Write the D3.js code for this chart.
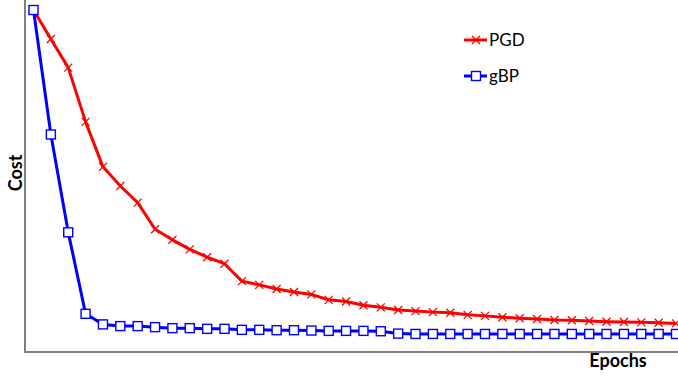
<!DOCTYPE html>
<html>
<head>
<meta charset="utf-8">
<script src="https://cdn.jsdelivr.net/npm/d3@7"></script>
<style>
  body { margin: 0; background: #fff; }
  svg { display: block; }
</style>
</head>
<body>
<div id="chart"></div>
<script>
// data (cost in arbitrary units, top point = 100)
const epochs = d3.range(0, 38);
const pgdCost = [100, 91.5, 83.1, 67.2, 54.0, 48.4, 43.5, 35.7, 32.6, 29.8,
  27.5, 25.6, 20.5, 19.4, 18.2, 17.3, 16.6, 15.0, 14.5, 13.4,
  12.8, 12.0, 11.7, 11.4, 11.2, 10.6, 10.3, 9.9, 9.6, 9.4,
  9.1, 9.0, 8.8, 8.6, 8.5, 8.4, 8.3, 8.1];
const gbpCost = [100, 63.5, 34.8, 10.9, 7.8, 7.3, 7.3, 7.0, 6.7, 6.7,
  6.5, 6.5, 6.2, 6.2, 6.1, 6.1, 6.0, 5.9, 5.9, 5.9,
  5.8, 5.1, 5.0, 5.0, 5.0, 5.0, 5.0, 5.0, 5.0, 5.0,
  5.0, 5.0, 5.0, 5.0, 5.0, 5.0, 5.0, 5.0];
const seriesNames = ["PGD", "gBP"];
const seriesColors = ["#ff0000", "#0000ff"];

// dimensions
const width = 678, height = 377;
const axisX = 25, axisY = 352;

const svg = d3.select("#chart").append("svg")
  .attr("width", width)
  .attr("height", height);

const x = d3.scaleLinear().domain([0, 37]).range([33.5, 676]);
const y = d3.scaleLinear().domain([0, 100]).range([351, 10]);

// axes (no ticks)
svg.append("line")
  .attr("x1", axisX).attr("x2", axisX)
  .attr("y1", 0).attr("y2", axisY)
  .attr("stroke", "#808080").attr("stroke-width", 2);
svg.append("line")
  .attr("x1", axisX - 1).attr("x2", width)
  .attr("y1", axisY).attr("y2", axisY)
  .attr("stroke", "#808080").attr("stroke-width", 2);

// axis titles
svg.append("text")
  .attr("transform", `translate(22, 173) rotate(-90)`)
  .attr("text-anchor", "middle")
  .style("font-family", "Lato, 'Open Sans', sans-serif")
  .style("font-weight", "bold")
  .style("font-size", "18px")
  .text("Cost");
svg.append("text")
  .attr("x", 618).attr("y", 367)
  .attr("text-anchor", "middle")
  .style("font-family", "Lato, 'Open Sans', sans-serif")
  .style("font-weight", "bold")
  .style("font-size", "18px")
  .text("Epochs");

const line = d3.line()
  .x((d, i) => x(epochs[i]))
  .y(d => y(d));

// marker helpers
const crossMark = function(g, cx, cy, color){
  const s = 4;
  g.append("path")
    .attr("d", `M${cx - s},${cy - s}L${cx + s},${cy + s}M${cx - s},${cy + s}L${cx + s},${cy - s}`)
    .attr("stroke", color)
    .attr("stroke-width", 1.3)
    .attr("fill", "none");
};
const squareMark = function(g, cx, cy, color){
  const s = 4.5;
  g.append("rect")
    .attr("x", cx - s).attr("y", cy - s)
    .attr("width", 2 * s).attr("height", 2 * s)
    .attr("fill", "#fff")
    .attr("stroke", color)
    .attr("stroke-width", 1.4);
};

// PGD
const gPgd = svg.append("g");
gPgd.append("path")
  .datum(pgdCost)
  .attr("d", line)
  .attr("fill", "none")
  .attr("stroke", seriesColors[0])
  .attr("stroke-width", 3)
  .attr("stroke-linejoin", "round");
pgdCost.forEach((d, i) => crossMark(gPgd, x(epochs[i]), y(d), seriesColors[0]));

// gBP
const gGbp = svg.append("g");
gGbp.append("path")
  .datum(gbpCost)
  .attr("d", line)
  .attr("fill", "none")
  .attr("stroke", seriesColors[1])
  .attr("stroke-width", 3)
  .attr("stroke-linejoin", "round");
gbpCost.forEach((d, i) => squareMark(gGbp, x(epochs[i]), y(d), seriesColors[1]));

// legend
const legend = svg.append("g");
const markers = [crossMark, squareMark];
seriesNames.forEach((name, i) => {
  const ly = 40 + i * 36;
  legend.append("line")
    .attr("x1", 464).attr("x2", 487)
    .attr("y1", ly).attr("y2", ly)
    .attr("stroke", seriesColors[i])
    .attr("stroke-width", 3);
  markers[i](legend, 476, ly, seriesColors[i]);
  legend.append("text")
    .attr("x", 489).attr("y", ly + 6)
    .style("font-family", "Lato, 'Open Sans', sans-serif")
    .style("font-size", "17px")
    .attr("fill", "#000")
    .text(name);
});
</script>
</body>
</html>
